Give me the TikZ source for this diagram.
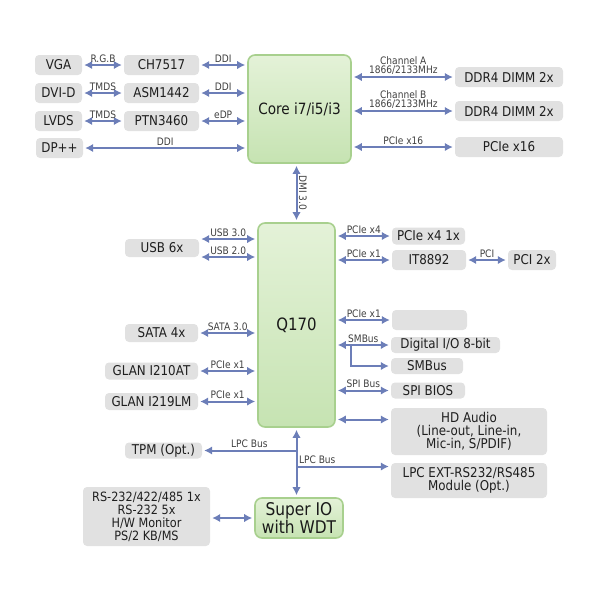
\documentclass[tikz,border=0pt]{standalone}
\usepackage{fontspec}
\setmainfont{DejaVu Sans}[FakeStretch=0.88]
\usetikzlibrary{arrows.meta}

\definecolor{busblue}{RGB}{108,126,184}
\definecolor{boxgray}{RGB}{225,225,225}
\definecolor{chipline}{RGB}{168,208,142}
\definecolor{chiptop}{RGB}{228,242,216}
\definecolor{chipbot}{RGB}{198,227,178}

\begin{document}
\begin{tikzpicture}[x=1pt,y=-1pt,
    dev/.style={fill=boxgray,rounded corners=4pt,inner sep=0pt,text=black!88,
      font=\fontsize{13.5}{13}\selectfont,align=center},
    chip/.style={draw=chipline,line width=1.6pt,top color=chiptop,bottom color=chipbot,
      rounded corners=7pt,inner sep=0pt,text=black!90,align=center},
    bus/.style={busblue,line width=2pt,{Latex[length=8pt,width=8.5pt]}-{Latex[length=8pt,width=8.5pt]},
      shorten <=2pt,shorten >=2pt},
    tap/.style={busblue,line width=2pt,-{Latex[length=8pt,width=8.5pt]},shorten >=2pt},
    lbl/.style={font=\fontsize{10.3}{9}\selectfont,text=black!75,inner sep=1.5pt,align=center}]
    \useasboundingbox (0,0) rectangle (600,600);

    % processors
    \node[chip,minimum width=103pt,minimum height=108pt,font=\fontsize{15.5}{17}\selectfont] (core) at (299.5,109) {Core i7/i5/i3};
    \node[chip,minimum width=77pt,minimum height=204pt,font=\fontsize{17}{19}\selectfont] (q170) at (296.5,325) {Q170};
    \node[chip,minimum width=88pt,minimum height=40pt,font=\fontsize{17.5}{18}\selectfont] (superio) at (299,518) {Super IO\\with WDT};

    % display outputs
    \foreach \n/\y/\port/\conv/\sig/\host in {1/65/VGA/CH7517/R.G.B/DDI,2/93/DVI-D/ASM1442/TMDS/DDI,3/121/LVDS/PTN3460/TMDS/eDP} {
      \node[dev,minimum width=47pt,minimum height=20pt] (port\n) at (58.5,\y) {\port};
      \node[dev,minimum width=75pt,minimum height=20pt] (conv\n) at (161.5,\y) {\conv};
      \draw[bus] (port\n) -- (conv\n) node[midway,above,lbl] {\sig};
      \draw[bus] (conv\n) -- (conv\n -| core.west) node[midway,above,lbl] {\host};
    }
    \node[dev,minimum width=47pt,minimum height=20pt] (dp) at (59.5,148) {DP++};
    \draw[bus] (dp) -- (dp -| core.west) node[midway,above,lbl] {DDI};

    % memory and graphics
    \node[dev,minimum width=108pt,minimum height=20pt] (ddrA) at (509,77) {DDR4 DIMM 2x};
    \node[dev,minimum width=108pt,minimum height=20pt] (ddrB) at (509,111) {DDR4 DIMM 2x};
    \node[dev,minimum width=108pt,minimum height=20pt] (pcieg) at (509,147) {PCIe x16};
    \draw[bus] (ddrA -| core.east) -- (ddrA) node[midway,above,lbl,font=\fontsize{10.3}{8.8}\selectfont] {Channel A\\1866/2133MHz};
    \draw[bus] (ddrB -| core.east) -- (ddrB) node[midway,above,lbl,font=\fontsize{10.3}{8.8}\selectfont] {Channel B\\1866/2133MHz};
    \draw[bus] (pcieg -| core.east) -- (pcieg) node[midway,above,lbl] {PCIe x16};

    \draw[bus] (q170.north |- core.south) -- (q170.north) node[midway,lbl,rotate=-90,anchor=south] {DMI 3.0};

    % chipset, left side
    \node[dev,minimum width=74pt,minimum height=18pt] (usb) at (162,248) {USB 6x};
    \node[dev,minimum width=73pt,minimum height=18pt] (sata) at (161.5,333) {SATA 4x};
    \node[dev,minimum width=93pt,minimum height=17pt] (glanA) at (151.5,371) {GLAN I210AT};
    \node[dev,minimum width=93pt,minimum height=17pt] (glanB) at (151.5,401.5) {GLAN I219LM};
    \draw[bus] ([yshift=9pt]usb.east) -- ([yshift=9pt]usb.east -| q170.west) node[midway,above,lbl] {USB 3.0};
    \draw[bus] ([yshift=-9pt]usb.east) -- ([yshift=-9pt]usb.east -| q170.west) node[midway,above,lbl] {USB 2.0};
    \draw[bus] (sata) -- (sata -| q170.west) node[midway,above,lbl] {SATA 3.0};
    \draw[bus] (glanA) -- (glanA -| q170.west) node[midway,above,lbl] {PCIe x1};
    \draw[bus] (glanB) -- (glanB -| q170.west) node[midway,above,lbl] {PCIe x1};

    % chipset, right side
    \node[dev,minimum width=73pt,minimum height=17pt] (pcie4) at (428.5,236) {PCIe x4 1x};
    \node[dev,minimum width=74pt,minimum height=20pt] (bridge) at (429,260) {IT8892};
    \node[dev,minimum width=48pt,minimum height=20pt] (pci) at (532,260) {PCI 2x};
    \node[dev,minimum width=75pt,minimum height=20pt] (spare) at (429.5,320) {};
    \node[dev,minimum width=109pt,minimum height=16pt] (dio) at (445.5,345) {Digital I/O 8-bit};
    \node[dev,minimum width=72pt,minimum height=16pt] (smbus) at (427,366) {SMBus};
    \node[dev,minimum width=74pt,minimum height=16pt] (spibios) at (428,390.5) {SPI BIOS};
    \node[dev,minimum width=156pt,minimum height=47pt] (hda) at (469,431.5) {HD Audio\\(Line-out, Line-in,\\Mic-in, S/PDIF)};
    \node[dev,minimum width=156pt,minimum height=35pt] (lpcext) at (469,480.5) {LPC EXT-RS232/RS485\\Module (Opt.)};
    \coordinate (hdaport) at ([yshift=12pt]hda.west);
    \coordinate (lpcport) at ([yshift=14pt]lpcext.west);
    \coordinate (smtap) at ([xshift=15pt]q170.east |- dio.west);

    \draw[bus] (pcie4 -| q170.east) -- (pcie4) node[midway,above,lbl] {PCIe x4};
    \draw[bus] (bridge -| q170.east) -- (bridge) node[midway,above,lbl] {PCIe x1};
    \draw[bus] (bridge) -- (pci) node[midway,above,lbl] {PCI};
    \draw[bus] (spare -| q170.east) -- (spare) node[midway,above,lbl] {PCIe x1};
    \draw[bus] (dio -| q170.east) -- (dio) node[midway,above,lbl] {SMBus};
    \draw[tap] (smtap) |- (smbus.west);
    \draw[bus] (spibios -| q170.east) -- (spibios) node[midway,above,lbl] {SPI Bus};
    \draw[bus] (hdaport -| q170.east) -- (hdaport);

    % LPC bus
    \node[dev,minimum width=77pt,minimum height=16pt] (tpm) at (163.5,450.5) {TPM (Opt.)};
    \node[dev,minimum width=127pt,minimum height=59pt,font=\fontsize{12.8}{13}\selectfont] (serial) at (146.5,516.5) {RS-232/422/485 1x\\RS-232 5x\\H/W Monitor\\PS/2 KB/MS};
    \draw[bus] (q170.south) -- (q170.south |- superio.north);
    \draw[tap] (q170.south |- tpm.east) -- (tpm.east) node[midway,above,lbl] {LPC Bus};
    \draw[tap] (q170.south |- lpcport) -- (lpcport) node[pos=0.22,above,lbl] {LPC Bus};
    \draw[bus] (serial.east |- superio.west) -- (superio.west);
\end{tikzpicture}
\end{document}
